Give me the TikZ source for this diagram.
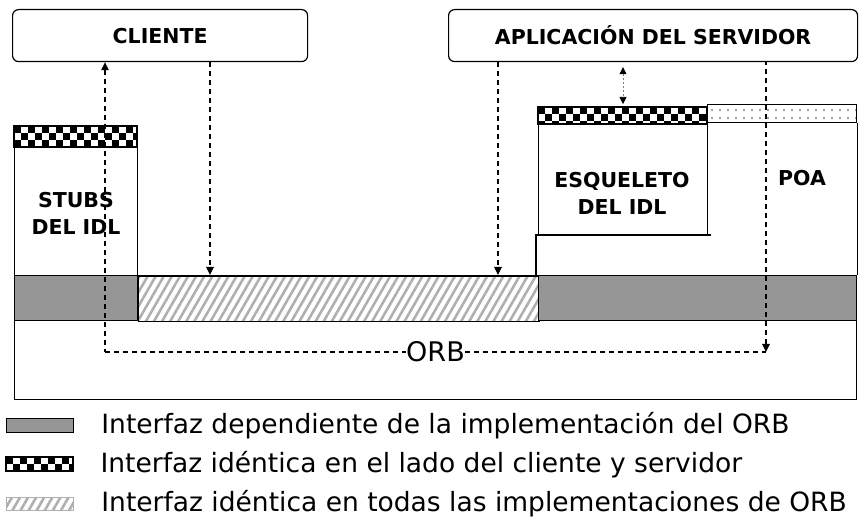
\documentclass[tikz,border=0pt]{standalone}
\usepackage{fontspec}
\setmainfont{DejaVu Sans}
\usetikzlibrary{arrows.meta, positioning, patterns.meta}

\definecolor{orbgray}{RGB}{150,150,150}
\definecolor{hatchgray}{RGB}{175,175,175}

% barra de cuadros blanco/negro (interfaz identica cliente/servidor)
\newcommand{\checkbar}[4]{%
  \begin{scope}
    \clip (#1,#2) rectangle (#3,#4);
    \foreach \j in {0,1,2} \foreach \i in {0,2,...,24}
      \fill ({#1+7*\i+7*mod(\j,2)},{#2+7*\j}) rectangle ++(7,7);
  \end{scope}
  \draw[line width=1.2pt] (#1,#2) rectangle (#3,#4);}

\begin{document}
\begin{tikzpicture}[x=1pt, y=-1pt,
			lbl/.style={font=\fontsize{20.5}{27}\selectfont\bfseries, align=center},
			appbox/.style={rectangle, draw, rounded corners=6pt, line width=1.2pt,
					anchor=north west, lbl},
			blk/.style={rectangle, draw, line width=1.2pt, anchor=north west,
					inner sep=0pt, lbl},
			graybar/.style={rectangle, draw, fill=orbgray, line width=1.2pt,
					anchor=north west, inner sep=0pt},
			hatchbar/.style={rectangle, draw, line width=1.2pt, anchor=north west, inner sep=0pt,
					pattern={Lines[angle=60, distance=7pt, line width=2.6pt]}, pattern color=hatchgray},
			dotbar/.style={rectangle, draw, line width=1.2pt, anchor=north west, inner sep=0pt,
					pattern={Dots[distance=8pt, radius=1.1pt]}, pattern color=gray},
			legtxt/.style={font=\fontsize{26.5}{30}\selectfont, inner sep=0pt, anchor=west},
			darrow/.style={line width=1.1pt, dash pattern=on 5pt off 4pt,
					-{Triangle[length=8pt, width=7.5pt]}},
			dline/.style={line width=1.1pt, dash pattern=on 5pt off 4pt},
			sarrow/.style={line width=0.6pt, gray, dash pattern=on 2pt off 2pt,
					{Triangle[length=7pt, width=7pt, color=black]}-{Triangle[length=7pt, width=7pt, color=black]}},
		]
		\useasboundingbox (0,0) rectangle (859,518);

		% --- Aplicaciones ---
		\node (client) [appbox, minimum width=295, minimum height=52] at (12,9)  {CLIENTE};
		\node (server) [appbox, minimum width=409, minimum height=52] at (448,9) {APLICACIÓN DEL SERVIDOR};

		% --- ORB y sus interfaces ---
		\node (orb)   [blk, minimum width=842, minimum height=124] at (14,275) {};
		\node (grayl) [graybar, minimum width=123, minimum height=45] at (14,275) {};
		\node (hatch) [hatchbar, minimum width=401, minimum height=45] at (137,275) {};
		\node (grayr) [graybar, minimum width=318, minimum height=45] at (538,275) {};

		% lado del cliente
		\checkbar{14}{126}{137}{147}
		\node (stubs) [blk, minimum width=123, minimum height=128] at (14,147) {};
		\node (stubslbl) [lbl] at (76,213) {STUBS\\DEL IDL};

		% lado del servidor
		\draw [line width=1.2pt] (711,235) -- (536,235) -- (536,275);
		\checkbar{538}{107}{707}{124}
		\node (skel)    [blk, minimum width=169, minimum height=111] at (538,124) {};
		\node (skellbl) [lbl] at (622,193) {ESQUELETO\\DEL IDL};
		\node (poabar)  [dotbar, minimum width=149, minimum height=18] at (707,104) {};
		\node (poa)     [lbl] at (802,178) {POA};
		\draw [line width=1.2pt] (poabar.south east) -- (orb.north east);

		% --- Llamadas ---
		\coordinate (orbL) at (105,352);
		\coordinate (orbR) at (766,352);
		\coordinate (cdn)  at (210,0);
		\coordinate (sdn)  at (498,0);
		\coordinate (skx)  at (623,107);

		\draw [darrow, {Triangle[length=8pt, width=7.5pt]}-] (orbL |- client.south) -- (orbL);
		\draw [darrow, {Triangle[length=8pt, width=7.5pt]}-] (orbR) -- (orbR |- server.south);
		\draw [dline] (orbL) -- node[fill=white, inner sep=0pt, font=\fontsize{27}{30}\selectfont] (orblbl) {ORB} (orbR);
		\draw [darrow] (cdn |- client.south) -- (cdn |- hatch.north);
		\draw [darrow] (sdn |- server.south) -- (sdn |- hatch.north);
		\draw [sarrow, shorten <=5pt, shorten >=3pt] (skx |- server.south) -- (skx);

		% --- Leyenda ---
		\node (leg1) [graybar, minimum width=67, minimum height=14] at (6,418) {};
		\node [legtxt, right=27pt of leg1.east] {Interfaz dependiente de la implementación del ORB};
		\checkbar{6}{457}{73}{471}
		\node (leg2) [anchor=north west, inner sep=0pt, minimum width=67, minimum height=14] at (6,457) {};
		\node [legtxt, right=27pt of leg2.east] {Interfaz idéntica en el lado del cliente y servidor};
		\node (leg3) [hatchbar, draw=hatchgray, minimum width=67, minimum height=13] at (6,497) {};
		\node [legtxt, right=27pt of leg3.east] {Interfaz idéntica en todas las implementaciones de ORB};

	\end{tikzpicture}
\end{document}
